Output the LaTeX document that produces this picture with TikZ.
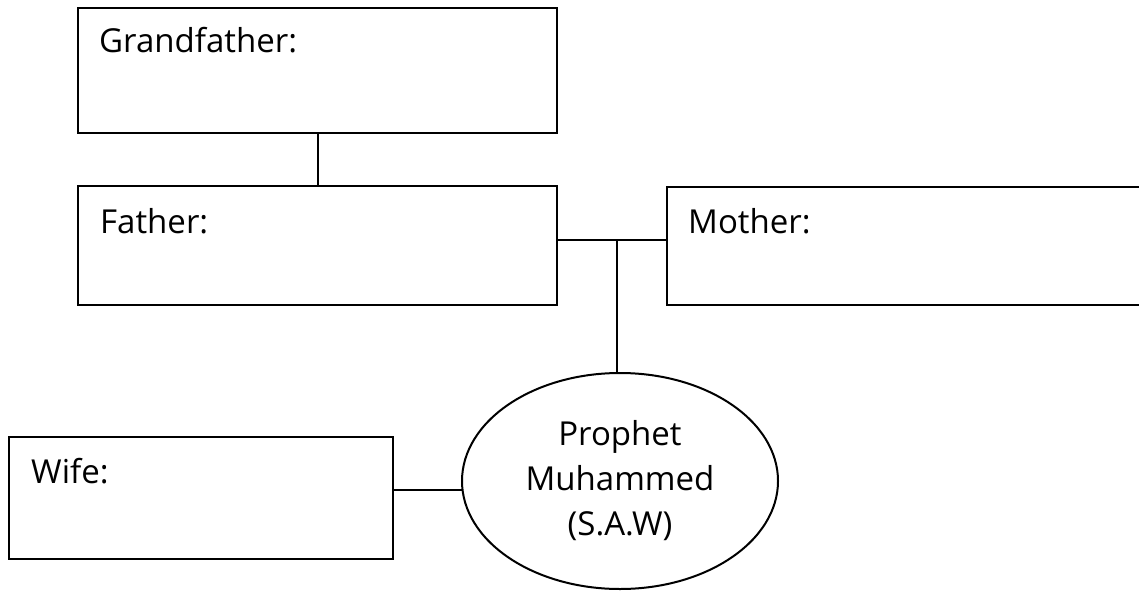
\documentclass[tikz,border=0pt]{standalone}
\usepackage{fontspec}
\setmainfont{Open Sans}
\usepackage{tikz}
\usetikzlibrary{positioning,shapes.geometric,calc}
\tikzset{famrect/.style={rectangle, draw=black, line width=2pt, inner sep=0pt, outer sep=0pt}}
\tikzset{famname/.style={anchor=base west, inner sep=0pt, font=\fontsize{33}{45}\selectfont}}
\tikzset{prophetell/.style={ellipse, draw=black, line width=2pt, inner sep=0pt, outer sep=0pt, align=center, font=\fontsize{33}{45}\selectfont}}

\begin{document}
\begin{tikzpicture}[x=1pt,y=1pt]
		\useasboundingbox (0,0) rectangle (1139,590);
		\node[famrect,minimum width=479,minimum height=125] (grandfather) at (317.5,519.5) {};
		\node[famrect,minimum width=479,minimum height=119] (father) at (317.5,344.5) {};
		\node[famrect,minimum width=483,minimum height=118] (mother) at (908.5,344) {};
		\node[famrect,minimum width=384,minimum height=122] (wife) at (201,92) {};
		\node[prophetell,minimum width=316,minimum height=216] (prophet) at (620,109) {Prophet\\Muhammed\\(S.A.W)};
		\node[famname,xshift=21pt,yshift=-45pt] (grandfathertext) at (grandfather.north west) {Grandfather:};
		\node[famname,xshift=22pt,yshift=-47pt] (fathertext) at (father.north west) {Father:};
		\node[famname,xshift=21pt,yshift=-46pt] (mothertext) at (mother.north west) {Mother:};
		\node[famname,xshift=22pt,yshift=-46pt] (wifetext) at (wife.north west) {Wife:};
		% links
		\draw[line width=2pt] (grandfather.south) -- (father.north);
		\draw[line width=2pt] ([yshift=5.5pt]father.east) -- ([yshift=6pt]mother.west);
		\coordinate (marriage) at ($([yshift=5.5pt]father.east)!0.545!([yshift=5.5pt]mother.west)$);
		\draw[line width=2pt] (marriage) -- (marriage |- prophet.north);
		\draw[line width=2pt] ([yshift=8pt]wife.east) -- ([yshift=8pt]wife.east -| prophet.west);
	\end{tikzpicture}
\end{document}
